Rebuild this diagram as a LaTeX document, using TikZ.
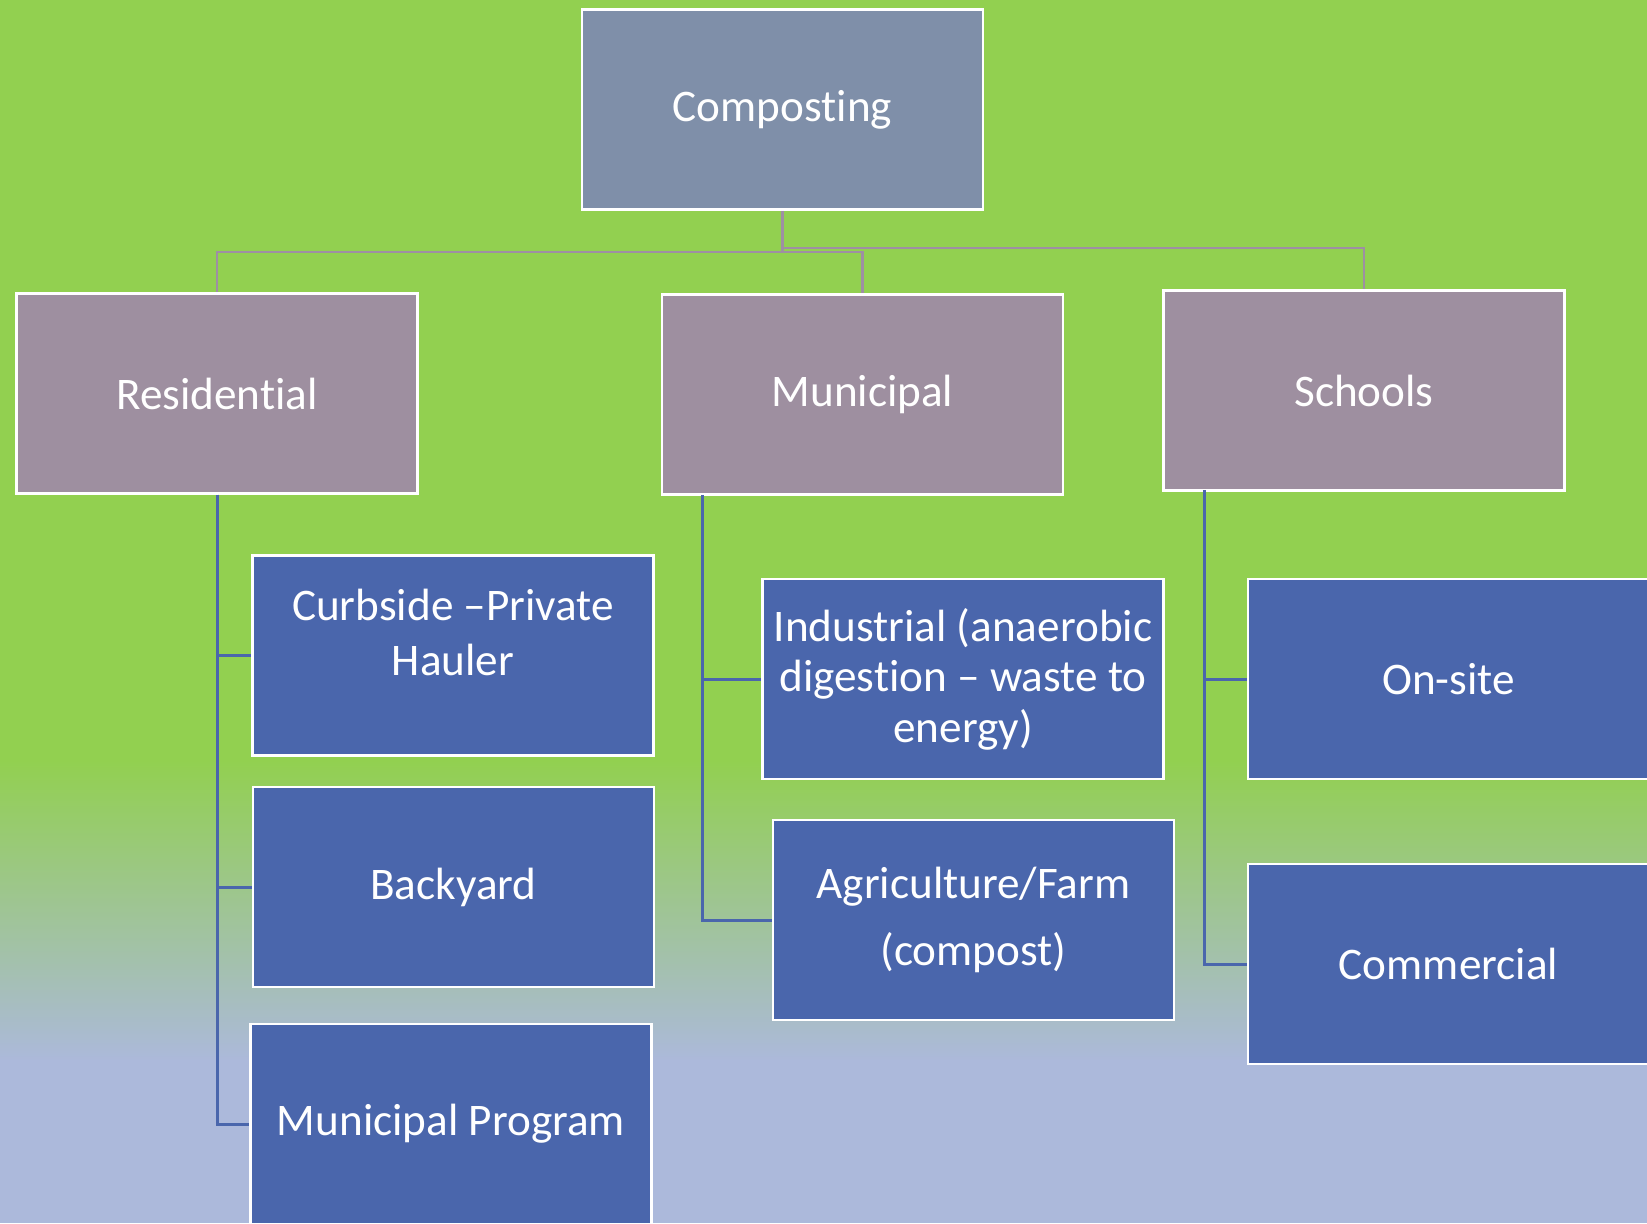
\documentclass[tikz,border=0pt]{standalone}
\usepackage{fontspec}
\setmainfont{Carlito}[Ligatures={NoCommon}]
\definecolor{bggreen}{HTML}{92D050}
\definecolor{bgblue}{HTML}{ACB9DB}
\definecolor{topfill}{HTML}{7F8FA9}
\definecolor{midfill}{HTML}{9E8FA0}
\definecolor{lowfill}{HTML}{4A66AC}
\definecolor{toplinec}{HTML}{9E8FA3}
\begin{document}
\begin{tikzpicture}[x=0.5pt,y=-0.5pt,
  box/.style={draw=white, line width=1.3pt, minimum width=200.5pt, minimum height=100pt,
    inner sep=0pt, text=white, align=center, font=\fontsize{22.6}{27.5}\selectfont},
  topbox/.style={box, fill=topfill},
  midbox/.style={box, fill=midfill},
  lowbox/.style={box, fill=lowfill},
  txt/.style={text=white, align=center, inner sep=0pt, font=\fontsize{22.6}{27.5}\selectfont},
  topconn/.style={draw=toplinec, line width=1.2pt},
  lowconn/.style={draw=lowfill, line width=1.5pt}]
\useasboundingbox (0,0) rectangle (1647,1223);
\clip (0,0) rectangle (1647,1223);
% background
\fill[bggreen] (0,0) rectangle (1647,762);
\shade[top color=bggreen, bottom color=bgblue] (0,760) rectangle (1647,1062);
\fill[bgblue] (0,1060) rectangle (1647,1223);

% coordinates for connector junctions
\coordinate (j1) at (782.5,252);
\coordinate (j2) at (782.5,248);
\coordinate (mv) at (702,495);
\coordinate (sv) at (1204,490);

% nodes
\node[topbox] (comp) at (782.5,109.5) {\raisebox{-1.5pt}{Composting}};
\node[midbox] (res) at (217,393.5) {Residential};
\node[midbox] (mun) at (862.5,394.5) {Municipal};
\node[midbox] (sch) at (1364,390.5) {Schools};

\node[lowbox] (curb) at (453,655.5) {};
\node[txt] (curbtxt) at (453,632.5) {Curbside –Private\\Hauler};
\node[lowbox] (back) at (453.5,887) {Backyard};
\node[lowbox] (mprog) at (451,1124) {Municipal Program};

\node[lowbox, font=\fontsize{22.6}{25.2}\selectfont] (ind) at (963,679) {Industrial (anaerobic\\digestion – waste to\\energy)};
\node[lowbox, font=\fontsize{22.6}{33.5}\selectfont] (agr) at (973.5,920) {Agriculture/Farm\\(compost)};

\node[lowbox] (ons) at (1448.5,679) {On-site};
\node[lowbox] (com) at (1448.5,964) {Commercial};

% top connectors
\draw[topconn] (comp.south) -- (j1);
\draw[topconn] (j1) -| (res.north);
\draw[topconn] (j1) -| (mun.north);
\draw[topconn] (j2) -| (sch.north);

% lower connectors
\draw[lowconn] (res.south) |- (curb.west);
\draw[lowconn] (res.south) |- (back.west);
\draw[lowconn] (res.south) |- (mprog.west);
\draw[lowconn] (mv) |- (ind.west);
\draw[lowconn] (mv) |- (agr.west);
\draw[lowconn] (sv) |- (ons.west);
\draw[lowconn] (sv) |- (com.west);
\end{tikzpicture}
\end{document}
